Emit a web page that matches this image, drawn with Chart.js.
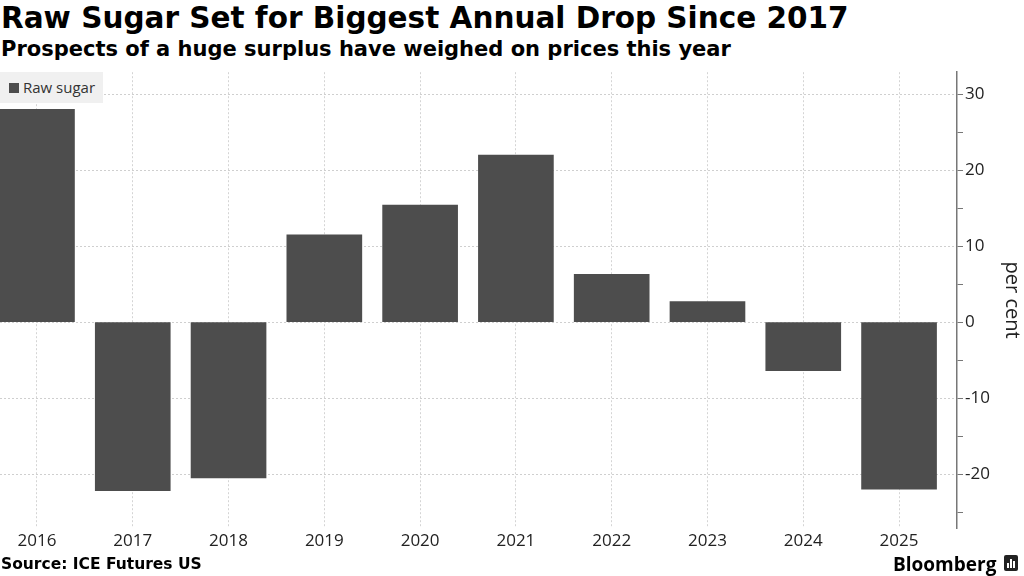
<!DOCTYPE html>
<html lang="en">
<head>
    <meta charset="UTF-8">
    <title>Raw Sugar</title>
    <script src="https://cdn.jsdelivr.net/npm/chart.js"></script>
    <style>
        body{
            margin: 0;
            width: 1024px;
            height: 576px;
            background: white;
            position: relative;
            overflow: hidden;
            font-family: "DejaVu Sans", Verdana, sans-serif;
        }
        .title{
            position: absolute;
            left: 1px;
            top: 1px;
            font-size: 29.5px;
            font-weight: bold;
            color: #000;
        }
        .subtitle{
            position: absolute;
            left: 1px;
            top: 37px;
            font-size: 21px;
            font-weight: bold;
            color: #000;
        }
        .box{
            position: absolute;
            left: 0;
            top: 60px;
            width: 1024px;
            height: 500px;
        }
        .legend{
            position: absolute;
            left: 0;
            top: 72px;
            width: 103px;
            height: 31px;
            background: #f0f0f0;
            font-family: "Open Sans", sans-serif;
            font-size: 15px;
            color: #333;
            line-height: 31px;
        }
        .legend span{
            display: inline-block;
            width: 10px;
            height: 10px;
            background: #4d4d4d;
            margin-left: 9px;
            margin-right: 4px;
        }
        .source{
            position: absolute;
            left: 1px;
            top: 555px;
            font-size: 15.5px;
            font-weight: bold;
        }
        .logo{
            position: absolute;
            left: 893px;
            top: 551px;
            font-family: "Open Sans", sans-serif;
            font-size: 19px;
            font-weight: bold;
        }
        .icon{
            position: absolute;
            left: 1004px;
            top: 555px;
            width: 14px;
            height: 16px;
            background: #222;
            border-radius: 2px;
        }
        .icon i{
            position: absolute;
            bottom: 3px;
            width: 2px;
            background: white;
        }
    </style>
</head>
<body>
    <div class="title">Raw Sugar Set for Biggest Annual Drop Since 2017</div>
    <div class="subtitle">Prospects of a huge surplus have weighed on prices this year</div>
    <div class="box"><canvas id="miCanvas"></canvas></div>
    <div class="legend"><span></span>Raw sugar</div>
    <div class="source">Source: ICE Futures US</div>
    <div class="logo">Bloomberg</div>
    <div class="icon"><i style="left:3px;height:5px"></i><i style="left:6px;height:9px"></i><i style="left:9px;height:7px"></i></div>
    <script>
        const years = [2016, 2017, 2018, 2019, 2020, 2021, 2022, 2023, 2024, 2025];
        const rawSugar = [28.0, -22.2, -20.5, 11.5, 15.4, 22.0, 6.3, 2.7, -6.4, -22.0];
        const yTicks = [-25, -20, -15, -10, -5, 0, 5, 10, 15, 20, 25, 30];

        const points = years.map((y, i) => ({x: y, y: rawSugar[i]}));

        new Chart(document.getElementById("miCanvas"), {
            type: "bar",
            data: {
                datasets: [{
                    label: "Raw sugar",
                    data: points,
                    backgroundColor: "#4d4d4d",
                    barThickness: 75
                }]
            },
            options: {
                responsive: true,
                maintainAspectRatio: false,
                animation: false,
                layout: {padding: {top: 10, left: 0, right: 0, bottom: 0}},
                plugins: {
                    legend: {display: false},
                    tooltip: {enabled: false}
                },
                scales: {
                    x: {
                        type: "linear",
                        offset: false,
                        min: 2015.614,
                        max: 2025.605,
                        afterBuildTicks: (s) => { s.ticks = years.map(v => ({value: v})); },
                        afterFit: (s) => { s.height = 32; },
                        ticks: {
                            callback: (v) => String(v),
                            color: "#222",
                            font: {family: "Open Sans", size: 17},
                            padding: 3,
                            maxRotation: 0,
                            autoSkip: false
                        },
                        grid: {
                            offset: false,
                            color: "#d4d4d4",
                            drawTicks: false
                        },
                        border: {display: false, dash: [2, 2]}
                    },
                    y: {
                        position: "right",
                        min: -27.1,
                        max: 32.9,
                        afterBuildTicks: (s) => { s.ticks = yTicks.map(v => ({value: v})); },
                        afterFit: (s) => { s.width = 67; },
                        ticks: {
                            callback: (v) => (v % 10 === 0 ? String(v) : ""),
                            color: "#222",
                            font: {family: "Open Sans", size: 17},
                            padding: 2
                        },
                        grid: {
                            color: (c) => (c.tick && c.tick.value % 10 === 0 ? "#cfcfcf" : "rgba(0,0,0,0)"),
                            tickColor: "#777",
                            tickLength: 6,
                            tickBorderDash: []
                        },
                        border: {display: true, color: "#777", width: 1.5, dash: [2, 2]},
                        title: {
                            display: true,
                            text: "per cent",
                            color: "#222",
                            font: {family: "Open Sans", size: 20},
                            padding: {top: 0, bottom: 2}
                        }
                    }
                }
            }
        });
    </script>
</body>
</html>
